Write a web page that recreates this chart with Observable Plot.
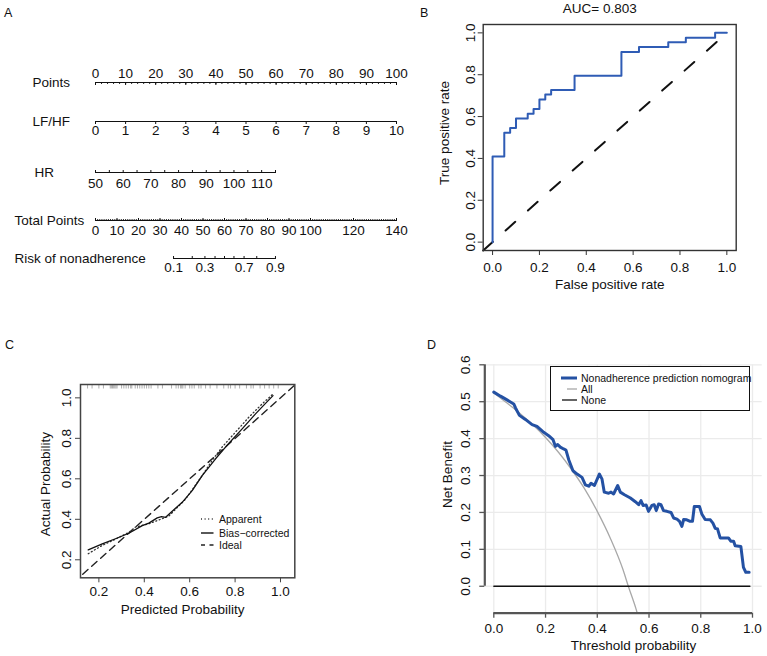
<!DOCTYPE html>
<html>
<head>
<meta charset="utf-8">
<script src="https://cdn.jsdelivr.net/npm/d3@7"></script>
<script src="https://cdn.jsdelivr.net/npm/@observablehq/plot@0.6"></script>
<style>
  body { margin: 0; background: #fff; }
  #root { position: relative; width: 767px; height: 656px; overflow: hidden;
          font-family: "Liberation Sans", Arial, Helvetica, sans-serif; color: #111; background: #fff; }
  .lbl { position: absolute; white-space: nowrap; }
</style>
</head>
<body>
<div id="root"></div>
<script>
// ---------------- DATA ----------------
// Panel A: nomogram axes
const pointsLabels = [0, 10, 20, 30, 40, 50, 60, 70, 80, 90, 100];
const lfhfLabels = [0, 1, 2, 3, 4, 5, 6, 7, 8, 9, 10];
const hrLabels = [50, 60, 70, 80, 90, 100, 110];
const hrTicks = [50, 55, 60, 65, 70, 75, 80, 85, 90, 95, 100, 105, 110, 115];
const totalLabels = [0, 10, 20, 30, 40, 50, 60, 70, 80, 90, 100, 120, 140];
const riskTickValues = [0.1, 0.2, 0.3, 0.4, 0.5, 0.6, 0.7, 0.8, 0.9];
const riskTickTotalPoints = [36.3, 45.0, 50.9, 55.6, 60.0, 64.4, 69.1, 75.0, 83.7];
const riskLabels = ["0.1", "0.3", "0.7", "0.9"];
const riskLabelTotalPoints = [36.3, 50.9, 69.1, 83.7];

// Panel B: ROC
const rocFPR = [0, 0, 0.05, 0.075, 0.1, 0.15, 0.175, 0.2, 0.225, 0.25, 0.35, 0.55, 0.625, 0.75, 0.825, 0.95, 1.0];
const rocTPR = [0, 0.409, 0.523, 0.545, 0.591, 0.614, 0.636, 0.682, 0.705, 0.727, 0.795, 0.909, 0.932, 0.955, 0.977, 1.0, 1.0];
const rocRef = [-0.04, 1];
const unitTicks = [0, 0.2, 0.4, 0.6, 0.8, 1.0];

// Panel C: calibration
const calTicks = [0.2, 0.4, 0.6, 0.8, 1.0];
const biasX = [0.153, 0.215, 0.273, 0.332, 0.391, 0.420, 0.457, 0.476, 0.494, 0.523, 0.567, 0.611, 0.655, 0.714, 0.773, 0.831, 0.890, 0.934, 0.967];
const biasY = [0.249, 0.279, 0.304, 0.331, 0.369, 0.381, 0.407, 0.413, 0.410, 0.440, 0.484, 0.542, 0.616, 0.699, 0.776, 0.847, 0.921, 0.973, 1.011];
const apparentX = [0.153, 0.215, 0.270, 0.332, 0.362, 0.420, 0.479, 0.508, 0.582, 0.655, 0.699, 0.743, 0.802, 0.861, 0.920, 0.964];
const apparentY = [0.230, 0.271, 0.300, 0.336, 0.362, 0.378, 0.403, 0.416, 0.500, 0.616, 0.691, 0.757, 0.831, 0.905, 0.971, 1.016];
const idealLine = [0.05, 1.1];
const calRug = [0.15, 0.17, 0.2, 0.22, 0.25, 0.255, 0.26, 0.265, 0.27, 0.275, 0.28, 0.3, 0.31, 0.32, 0.33, 0.34, 0.345,
  0.36, 0.37, 0.38, 0.39, 0.4, 0.41, 0.42, 0.43, 0.46, 0.48, 0.52, 0.54, 0.55, 0.56, 0.565, 0.57, 0.58, 0.6, 0.61,
  0.62, 0.64, 0.65, 0.67, 0.69, 0.72, 0.75, 0.77, 0.78, 0.8, 0.82, 0.85, 0.87, 0.88, 0.91, 0.93, 0.95, 0.97, 0.99];

// Panel D: decision curve
const dcaXTicks = [0, 0.2, 0.4, 0.6, 0.8, 1.0];
const dcaYTicks = [0, 0.1, 0.2, 0.3, 0.4, 0.5, 0.6];
const nomoT = [0.000, 0.026, 0.051, 0.077, 0.084, 0.099, 0.122, 0.148, 0.167, 0.193, 0.212, 0.229, 0.238, 0.247, 0.257,
  0.270, 0.279, 0.290, 0.306, 0.322, 0.341, 0.354, 0.367, 0.376, 0.389, 0.408, 0.418, 0.427, 0.444, 0.453, 0.463, 0.479,
  0.489, 0.505, 0.528, 0.547, 0.560, 0.569, 0.577, 0.589, 0.598, 0.611, 0.620, 0.628, 0.637, 0.646, 0.656, 0.669, 0.685,
  0.695, 0.708, 0.718, 0.727, 0.734, 0.746, 0.759, 0.768, 0.775, 0.795, 0.804, 0.817, 0.837, 0.847, 0.856, 0.865, 0.875,
  0.907, 0.916, 0.927, 0.933, 0.955, 0.965, 0.974, 0.987];
const nomoNB = [0.526, 0.515, 0.505, 0.494, 0.483, 0.463, 0.452, 0.438, 0.433, 0.417, 0.408, 0.397, 0.379, 0.384, 0.377,
  0.372, 0.369, 0.342, 0.313, 0.304, 0.295, 0.275, 0.271, 0.279, 0.273, 0.304, 0.291, 0.255, 0.252, 0.255, 0.250, 0.273,
  0.255, 0.248, 0.239, 0.229, 0.221, 0.232, 0.219, 0.220, 0.203, 0.219, 0.221, 0.205, 0.223, 0.221, 0.205, 0.203, 0.200,
  0.185, 0.182, 0.176, 0.162, 0.181, 0.180, 0.176, 0.176, 0.216, 0.216, 0.196, 0.181, 0.180, 0.171, 0.157, 0.155, 0.131,
  0.131, 0.122, 0.122, 0.110, 0.108, 0.051, 0.038, 0.038];
const allT = [0, 0.05, 0.1, 0.15, 0.2, 0.25, 0.3, 0.35, 0.4, 0.45, 0.5, 0.52, 0.55, 0.56];
const allNB = [0.524, 0.497, 0.469, 0.438, 0.403, 0.363, 0.317, 0.265, 0.203, 0.131, 0.044, 0.0, -0.062, -0.086];
const noneT = [0, 0.99];
const noneNB = [0, 0];

// ---------------- LAYOUT ----------------
const FONT = '"Liberation Sans", Arial, Helvetica, sans-serif';
const root = document.getElementById("root");
const baseStyle = { fontFamily: FONT, fontSize: "13.5px", background: "none", overflow: "visible", color: "#111" };
const fmt1 = d3.format(".1f");

function place(el, left, top) {
  el.style.position = "absolute";
  el.style.left = left + "px";
  el.style.top = top + "px";
  root.appendChild(el);
}
function label(text, left, centerY, size, lh) {
  const d = document.createElement("div");
  d.className = "lbl";
  d.textContent = text;
  d.style.fontSize = size + "px";
  d.style.lineHeight = lh + "px";
  d.style.left = left + "px";
  d.style.top = (centerY - lh / 2) + "px";
  root.appendChild(d);
  return d;
}

// ---------------- PANEL A ----------------
function nomRow(o) {
  const H = 40, mt = 20;
  const marks = [
    Plot.ruleY([0], { x1: o.lineFrom, x2: o.lineTo, stroke: "#111", strokeWidth: 1.1 }),
    Plot.axisX({ anchor: o.tickSide, ticks: o.majorTicks, tickSize: o.majorSize, tickFormat: () => "", stroke: "#111", strokeWidth: 1 }),
  ];
  if (o.minorTicks) marks.push(Plot.axisX({ anchor: o.tickSide, ticks: o.minorTicks, tickSize: o.minorSize, tickFormat: () => "", stroke: "#111", strokeWidth: 0.9 }));
  marks.push(Plot.text(o.labelPos, {
    x: d => d, text: (d, i) => o.labelText[i], frameAnchor: o.labelSide,
    dy: o.labelSide === "top" ? -o.labelOff : o.labelOff, lineAnchor: "middle", textAnchor: "middle", fill: "#111"
  }));
  marks.push(Plot.text([o.name], { frameAnchor: "left", dx: o.nameLeft - 95, textAnchor: "start", lineAnchor: "middle", fill: "#111" }));
  const svg = Plot.plot({
    width: 420, height: H, marginLeft: 95, marginRight: 420 - o.endPx, marginTop: mt, marginBottom: H - mt,
    x: { domain: o.domain }, y: { domain: [0, 1], axis: null },
    style: baseStyle, marks
  });
  place(svg, 0, o.lineY - mt);
}

nomRow({ name: "Points", nameLeft: 32, lineY: 81.5, domain: [0, 100], endPx: 396, lineFrom: 0, lineTo: 100,
  majorTicks: pointsLabels, majorSize: 3, minorTicks: d3.range(0, 101, 2), minorSize: 2, tickSide: "bottom",
  labelPos: pointsLabels, labelText: pointsLabels.map(String), labelSide: "top", labelOff: 8.5 });
nomRow({ name: "LF/HF", nameLeft: 32, lineY: 121, domain: [0, 10], endPx: 396, lineFrom: 0, lineTo: 10,
  majorTicks: lfhfLabels, majorSize: 3, tickSide: "bottom",
  labelPos: lfhfLabels, labelText: lfhfLabels.map(String), labelSide: "bottom", labelOff: 9 });
nomRow({ name: "HR", nameLeft: 34, lineY: 172.3, domain: [50, 115], endPx: 275, lineFrom: 50, lineTo: 115,
  majorTicks: hrTicks, majorSize: 3, tickSide: "top",
  labelPos: hrLabels, labelText: hrLabels.map(String), labelSide: "bottom", labelOff: 11 });
nomRow({ name: "Total Points", nameLeft: 14, lineY: 220.3, domain: [0, 140], endPx: 396, lineFrom: 0, lineTo: 140,
  majorTicks: totalLabels, majorSize: 3, minorTicks: d3.range(0, 141, 1), minorSize: 2, tickSide: "top",
  labelPos: totalLabels, labelText: totalLabels.map(String), labelSide: "bottom", labelOff: 10.5 });
nomRow({ name: "Risk of nonadherence", nameLeft: 14, lineY: 257.8, domain: [0, 140], endPx: 396,
  lineFrom: riskTickTotalPoints[0], lineTo: riskTickTotalPoints[riskTickTotalPoints.length - 1],
  majorTicks: riskTickTotalPoints, majorSize: 3, tickSide: "top",
  labelPos: riskLabelTotalPoints, labelText: riskLabels, labelSide: "bottom", labelOff: 9.5 });

// ---------------- PANEL B ----------------
{
  const roc = rocFPR.map((x, i) => ({ x, y: rocTPR[i] }));
  const svg = Plot.plot({
    width: 347, height: 300, marginLeft: 62.7, marginRight: 31.3, marginTop: 24, marginBottom: 50,
    x: { domain: [-0.04, 1.04] }, y: { domain: [-0.04, 1.04] },
    style: baseStyle,
    marks: [
      Plot.line(rocRef, { x: d => d, y: d => d, stroke: "#111", strokeWidth: 2, strokeDasharray: "13,17" }),
      Plot.line(roc, { x: "x", y: "y", curve: "step-after", stroke: "#2f5cb5", strokeWidth: 2 }),
      Plot.frame({ stroke: "#333", strokeWidth: 1.4 }),
      Plot.axisX({ ticks: unitTicks, tickSize: 5, tickFormat: () => "", stroke: "#333", label: null }),
      Plot.axisY({ ticks: unitTicks, tickSize: 5, tickFormat: () => "", stroke: "#333", label: null }),
      Plot.text(unitTicks, { x: d => d, text: fmt1, frameAnchor: "bottom", dy: 16.7, lineAnchor: "middle", textAnchor: "middle", fill: "#111" }),
      Plot.text(unitTicks, { y: d => d, text: fmt1, frameAnchor: "left", dx: -13, rotate: -90, lineAnchor: "middle", textAnchor: "middle", fill: "#111" }),
      Plot.text(["True positive rate"], { frameAnchor: "left", dx: -39, dy: -4.5, rotate: -90, lineAnchor: "middle", textAnchor: "middle", fill: "#111" }),
      Plot.text(["False positive rate"], { frameAnchor: "bottom", dy: 34, lineAnchor: "middle", textAnchor: "middle", fill: "#111" }),
      Plot.text(["AUC= 0.803"], { frameAnchor: "top", dy: -16, dx: -10, lineAnchor: "middle", textAnchor: "middle", fill: "#111" })
    ]
  });
  place(svg, 420, 0);
}

// ---------------- PANEL C ----------------
{
  const H = 356, mt = 84, mb = 78.7;
  const bias = biasX.map((x, i) => ({ x, y: biasY[i] }));
  const app = apparentX.map((x, i) => ({ x, y: apparentY[i] }));
  const svg = Plot.plot({
    width: 400, height: H, marginLeft: 80, marginRight: 105.7, marginTop: mt, marginBottom: mb,
    x: { domain: [0.119, 1.063] }, y: { domain: [0.111, 1.066] },
    style: baseStyle,
    marks: [
      Plot.ruleX(calRug, { x: d => d, stroke: "#9a9a9a", strokeWidth: 0.8, insetBottom: H - mt - mb - 4.5 }),
      Plot.line(idealLine, { x: d => d, y: d => d, stroke: "#222", strokeWidth: 1.4, strokeDasharray: "7,5", clip: true }),
      Plot.line(app, { x: "x", y: "y", stroke: "#333", strokeWidth: 1.3, strokeDasharray: "1,2.6" }),
      Plot.line(bias, { x: "x", y: "y", stroke: "#111", strokeWidth: 1.3 }),
      Plot.frame({ stroke: "#444", strokeWidth: 1.5 }),
      Plot.axisX({ ticks: calTicks, tickSize: 5, tickFormat: () => "", stroke: "#444", label: null }),
      Plot.axisY({ ticks: calTicks, tickSize: 5, tickFormat: () => "", stroke: "#444", label: null }),
      Plot.text(calTicks, { x: d => d, text: fmt1, frameAnchor: "bottom", dy: 13.7, lineAnchor: "middle", textAnchor: "middle", fill: "#111" }),
      Plot.text(calTicks, { y: d => d, text: fmt1, frameAnchor: "left", dx: -14, rotate: -90, lineAnchor: "middle", textAnchor: "middle", fill: "#111" }),
      Plot.text(["Actual Probability"], { frameAnchor: "left", dx: -35, dy: 3, rotate: -90, lineAnchor: "middle", textAnchor: "middle", fill: "#111" }),
      Plot.text(["Predicted Probability"], { frameAnchor: "bottom", dx: -5, dy: 31.7, lineAnchor: "middle", textAnchor: "middle", fill: "#111" })
    ]
  });
  place(svg, 0, 300);
}

// ---------------- PANEL D ----------------
{
  const xd = [-0.0348, 1.0375], yd = [-0.073, 0.6];
  const nomo = nomoT.map((x, i) => ({ x, y: nomoNB[i] }));
  const all = allT.map((x, i) => ({ x, y: allNB[i] }));
  const none = noneT.map((x, i) => ({ x, y: noneNB[i] }));
  const svg = Plot.plot({
    width: 367, height: 356, marginLeft: 84.3, marginRight: 5.3, marginTop: 64.3, marginBottom: 43.3,
    x: { domain: xd }, y: { domain: yd },
    style: baseStyle,
    marks: [
      Plot.ruleX(dcaXTicks, { stroke: "#ebebeb", strokeWidth: 1.3 }),
      Plot.ruleY(dcaYTicks, { stroke: "#ebebeb", strokeWidth: 1.3 }),
      Plot.line(all, { x: "x", y: "y", stroke: "#a8a8a8", strokeWidth: 1.3, curve: "monotone-x", clip: true }),
      Plot.line(none, { x: "x", y: "y", stroke: "#111", strokeWidth: 1.3 }),
      Plot.line(nomo, { x: "x", y: "y", stroke: "#2451a3", strokeWidth: 3, strokeLinejoin: "round" }),
      Plot.ruleX([xd[0]], { y1: dcaYTicks[0], y2: dcaYTicks[dcaYTicks.length - 1], stroke: "#555", strokeWidth: 2.2 }),
      Plot.ruleY([yd[0]], { x1: dcaXTicks[0], x2: dcaXTicks[dcaXTicks.length - 1], stroke: "#555", strokeWidth: 2.2 }),
      Plot.axisY({ ticks: dcaYTicks, tickSize: 5, tickFormat: () => "", stroke: "#555", strokeWidth: 1.3, label: null }),
      Plot.axisX({ ticks: dcaXTicks, tickSize: 5, tickFormat: () => "", stroke: "#555", strokeWidth: 1.3, label: null }),
      Plot.text(dcaXTicks, { x: d => d, text: fmt1, frameAnchor: "bottom", dy: 15.6, lineAnchor: "middle", textAnchor: "middle", fill: "#111" }),
      Plot.text(dcaYTicks, { y: d => d, text: fmt1, frameAnchor: "left", dx: -19, rotate: -90, lineAnchor: "middle", textAnchor: "middle", fill: "#111" }),
      Plot.text(["Net Benefit"], { frameAnchor: "left", dx: -37.6, dy: -14.5, rotate: -90, lineAnchor: "middle", textAnchor: "middle", fill: "#111" }),
      Plot.text(["Threshold probability"], { frameAnchor: "bottom", dx: 10, dy: 32.3, lineAnchor: "middle", textAnchor: "middle", fill: "#111" })
    ]
  });
  place(svg, 400, 300);
}

// ---------------- LEGENDS & PANEL LETTERS ----------------
function swatch(left, cy, w, color, width, dash) {
  const ns = "http://www.w3.org/2000/svg";
  const s = document.createElementNS(ns, "svg");
  s.setAttribute("width", w); s.setAttribute("height", 8);
  s.style.position = "absolute"; s.style.left = left + "px"; s.style.top = (cy - 4) + "px";
  const l = document.createElementNS(ns, "line");
  l.setAttribute("x1", 0); l.setAttribute("x2", w); l.setAttribute("y1", 4); l.setAttribute("y2", 4);
  l.setAttribute("stroke", color); l.setAttribute("stroke-width", width);
  if (dash) l.setAttribute("stroke-dasharray", dash);
  s.appendChild(l);
  root.appendChild(s);
}
// Panel C legend
swatch(201, 519.3, 12.5, "#333", 1.3, "1,2.6");
swatch(201, 533.3, 12.5, "#111", 1.4, null);
swatch(201, 545.3, 12.5, "#222", 1.4, "4,4.5");
label("Apparent", 219, 519.3, 10.5, 12);
label("Bias\u2212corrected", 219, 533.3, 10.5, 12);
label("Ideal", 219, 545.3, 10.5, 12);

// Panel D legend box
{
  const box = document.createElement("div");
  box.style.position = "absolute";
  box.style.left = "550px"; box.style.top = "366px";
  box.style.width = "200px"; box.style.height = "44.5px";
  box.style.border = "1.3px solid #111"; box.style.boxSizing = "border-box";
  box.style.background = "#fff";
  root.appendChild(box);
}
swatch(561, 378, 16, "#2451a3", 3, null);
swatch(566.5, 389, 10.5, "#a8a8a8", 1.3, null);
swatch(561.5, 400, 15.5, "#111", 1.3, null);
label("Nonadherence prediction nomogram", 581, 378, 10.5, 12);
label("All", 581, 389, 10.5, 12);
label("None", 581, 400, 10.5, 12);

// Panel letters
label("A", 4, 12.5, 12.5, 14);
label("B", 420, 12.5, 12.5, 14);
label("C", 5, 345, 12.5, 14);
label("D", 427, 345, 12.5, 14);
</script>
</body>
</html>
